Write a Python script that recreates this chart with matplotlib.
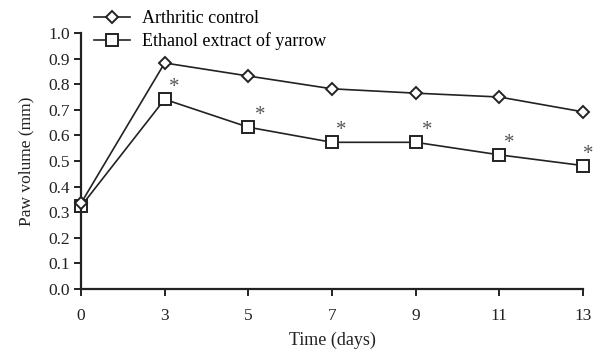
import matplotlib.pyplot as plt

days = ['0', '3', '5', '7', '9', '11', '13']
arthritic = [0.335, 0.883, 0.832, 0.782, 0.765, 0.750, 0.692]
yarrow = [0.323, 0.741, 0.632, 0.573, 0.573, 0.524, 0.482]
star_idx = [1, 2, 3, 4, 5, 6]
star_dx = [0.11, 0.14, 0.11, 0.14, 0.12, 0.06]

plt.rcParams['font.family'] = ['Liberation Serif', 'DejaVu Serif']

fig = plt.figure(figsize=(5.93, 3.55), dpi=100)
ax = fig.add_axes([0.1366, 0.186, 0.8466, 0.721])

x = list(range(len(days)))
ax.plot(x, arthritic, color='#222222', lw=1.2, marker='D', ms=6.5,
        mfc='white', mec='#222222', mew=1.4, clip_on=False, zorder=3,
        label='Arthritic control')
ax.plot(x, yarrow, color='#222222', lw=1.2, marker='s', ms=9,
        mfc='white', mec='#222222', mew=1.4, clip_on=False, zorder=2,
        label='Ethanol extract of yarrow')

# significance markers
for i, dx in zip(star_idx, star_dx):
    ax.text(x[i] + dx, yarrow[i] + 0.045, '*', color='#555555',
            fontsize=15, ha='center', va='center')

ax.set_xlim(0, 6)
ax.set_ylim(0, 1.0)
ax.set_xticks(x)
ax.set_xticklabels(days)
ax.set_yticks([i / 10 for i in range(11)])
ax.set_yticklabels([f'{i / 10:.1f}' for i in range(11)])

for s in ['top', 'right']:
    ax.spines[s].set_visible(False)
for s in ['left', 'bottom']:
    ax.spines[s].set_linewidth(1.6)
    ax.spines[s].set_color('#222222')
ax.tick_params(direction='out', width=1.4, length=5, labelsize=12.5,
               colors='#222222', pad=3)
ax.tick_params(axis='x', pad=9)

ax.set_xlabel('Time (days)', fontsize=13, color='#222222', labelpad=5)
ax.set_ylabel('Paw volume (mm)', fontsize=12.5, color='#222222', labelpad=10)

leg = ax.legend(loc='upper left', bbox_to_anchor=(0.025, 1.088), frameon=False,
                fontsize=13, handlelength=2.0, handletextpad=0.7,
                labelspacing=0.25, borderaxespad=0, borderpad=0)

fig.savefig('out.png', dpi=100)
